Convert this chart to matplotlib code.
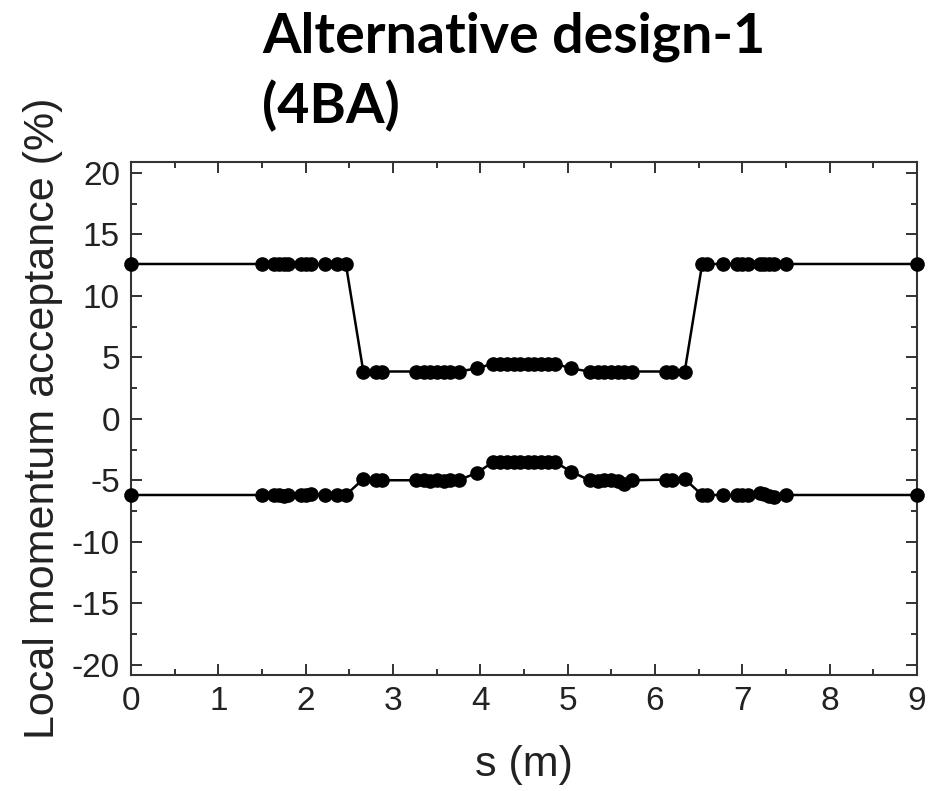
import matplotlib
matplotlib.use("Agg")
import matplotlib.pyplot as plt
from matplotlib.ticker import MultipleLocator

# Data
s_m = [0.0, 1.50, 1.64, 1.70, 1.75, 1.80, 1.95, 2.00, 2.06, 2.22, 2.36, 2.46,
       2.66, 2.80, 2.87, 3.26, 3.35, 3.42, 3.50, 3.58, 3.65, 3.75, 3.96,
       4.15, 4.23, 4.30, 4.38, 4.45, 4.55, 4.62, 4.70, 4.77, 4.85,
       5.04, 5.25, 5.35, 5.42, 5.50, 5.58, 5.65, 5.74, 6.13, 6.20, 6.34,
       6.54, 6.60, 6.78, 6.94, 7.00, 7.06, 7.20, 7.25, 7.30, 7.36, 7.50, 9.0]

upper_pct = [12.6, 12.6, 12.6, 12.6, 12.6, 12.6, 12.6, 12.6, 12.6, 12.6, 12.6, 12.6,
             3.85, 3.85, 3.85, 3.85, 3.85, 3.85, 3.85, 3.85, 3.85, 3.85, 4.1,
             4.5, 4.5, 4.5, 4.5, 4.5, 4.5, 4.5, 4.5, 4.5, 4.5,
             4.1, 3.85, 3.85, 3.85, 3.85, 3.85, 3.85, 3.85, 3.85, 3.85, 3.85,
             12.6, 12.6, 12.6, 12.6, 12.6, 12.6, 12.6, 12.6, 12.6, 12.6, 12.6, 12.6]

lower_pct = [-6.2, -6.2, -6.2, -6.2, -6.3, -6.2, -6.2, -6.2, -6.1, -6.2, -6.2, -6.2,
             -4.9, -4.95, -5.0, -5.0, -5.0, -5.05, -5.0, -5.05, -5.0, -5.0, -4.4,
             -3.5, -3.5, -3.5, -3.5, -3.5, -3.5, -3.5, -3.5, -3.5, -3.5,
             -4.3, -5.0, -5.05, -5.0, -5.0, -5.1, -5.3, -5.0, -4.95, -4.95, -4.9,
             -6.2, -6.2, -6.2, -6.2, -6.2, -6.2, -6.05, -6.15, -6.25, -6.35, -6.2, -6.2]

x_ticks = [0, 1, 2, 3, 4, 5, 6, 7, 8, 9]
y_ticks = [-20, -15, -10, -5, 0, 5, 10, 15, 20]

plt.rcParams['font.family'] = ['Liberation Sans', 'DejaVu Sans']

fig = plt.figure(figsize=(9.31, 7.91), dpi=100)
ax = fig.add_axes([131/931, 1 - 675/791, (917 - 131)/931, (675 - 162)/791])

for series in (upper_pct, lower_pct):
    ax.plot(s_m, series, color='black', linewidth=1.8, marker='o',
            markersize=9.5, markerfacecolor='black', markeredgecolor='black',
            clip_on=False, zorder=3)

ax.set_xlim(0, 9)
ax.set_ylim(-20.85, 20.9)
ax.set_xticks(x_ticks)
ax.set_yticks(y_ticks)
ax.set_xticklabels([str(v) for v in x_ticks])
ax.set_yticklabels([str(v) for v in y_ticks])
ax.xaxis.set_minor_locator(MultipleLocator(0.5))
ax.yaxis.set_minor_locator(MultipleLocator(2.5))
ax.tick_params(which='both', direction='in', top=True, right=True,
               labelsize=24, width=1.3, colors='#222222', labelcolor='#222222')
ax.tick_params(axis='y', pad=8)
ax.tick_params(axis='x', pad=8)
ax.tick_params(which='major', length=8)
ax.tick_params(which='minor', length=4.5)
for sp in ax.spines.values():
    sp.set_linewidth(1.5)
    sp.set_color('#333333')

ax.set_xlabel('s (m)', fontsize=31, color='#222222', labelpad=20)
ax.set_ylabel('Local momentum acceptance (%)', fontsize=31, color='#222222', labelpad=6)

fig.text(262/931, 1 - 11/791, 'Alternative design-1\n(4BA)', fontsize=40,
         fontweight='bold', family=['Lato', 'DejaVu Sans'], va='top', ha='left',
         linespacing=1.42)

fig.savefig('out.png', dpi=100, facecolor='white')
